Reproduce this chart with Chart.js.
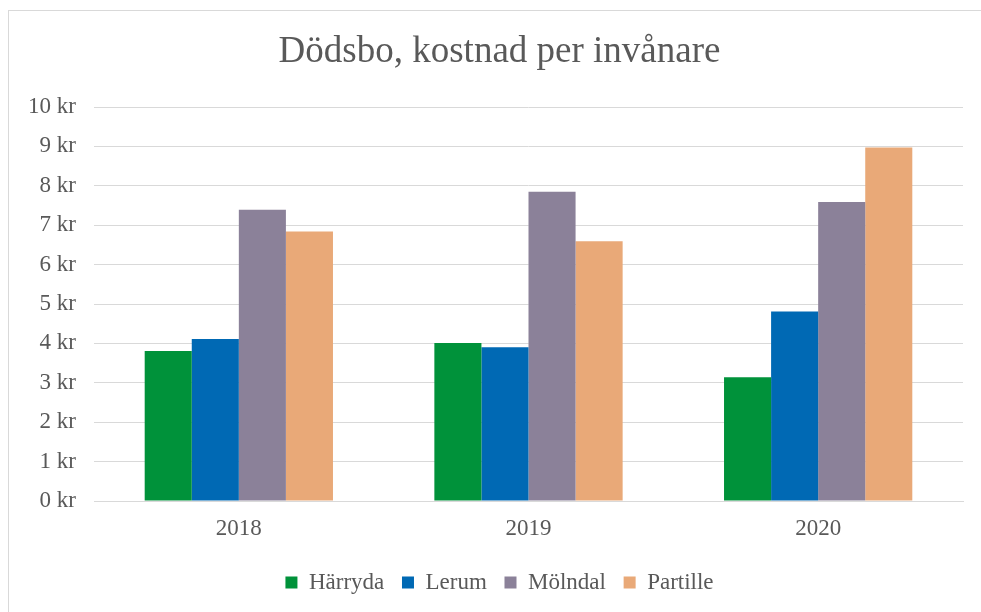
<!DOCTYPE html>
<html>
<head>
<meta charset="utf-8">
<script src="https://cdn.jsdelivr.net/npm/chart.js@4"></script>
<style>
  html, body { margin: 0; padding: 0; background: #fff; overflow: hidden; }
  #frame { position: absolute; left: 8px; top: 10px; width: 1100px; height: 800px; border: 1px solid #d9d9d9; }
  #wrap { position: absolute; left: 0; top: 0; width: 981px; height: 612px; }
</style>
</head>
<body>
<div id="frame"></div>
<div id="wrap"><canvas id="c"></canvas></div>
<script>
const categories = ["2018", "2019", "2020"];
const seriesNames = ["Härryda", "Lerum", "Mölndal", "Partille"];
const harryda  = [3.81, 4.01, 3.14];
const lerum    = [4.11, 3.90, 4.81];
const molndal  = [7.39, 7.85, 7.59];
const partille = [6.84, 6.59, 8.97];
const yTicks = [0, 1, 2, 3, 4, 5, 6, 7, 8, 9, 10];
const titleText = "Dödsbo, kostnad per invånare";
const unit = " kr";

const colors = ["#00923a", "#0069b4", "#8b8199", "#e9a978"];
const values = [harryda, lerum, molndal, partille];
const textColor = "#595959";
const fontFamily = "'Liberation Serif', 'Times New Roman', serif";

Chart.defaults.font.family = fontFamily;
Chart.defaults.color = textColor;

new Chart(document.getElementById("c"), {
  type: "bar",
  data: {
    labels: categories,
    datasets: seriesNames.map((name, i) => ({
      label: name,
      data: values[i],
      backgroundColor: colors[i],
      borderWidth: 0,
      categoryPercentage: 0.65,
      barPercentage: 1.0
    }))
  },
  options: {
    responsive: true,
    maintainAspectRatio: false,
    animation: false,
    layout: { padding: { top: 0, right: 18, bottom: 8, left: 36 } },
    plugins: {
      title: {
        display: true,
        text: titleText,
        color: textColor,
        font: { family: fontFamily, size: 37, weight: "normal" },
        padding: { top: 30, bottom: 32.6 }
      },
      legend: {
        position: "bottom",
        labels: {
          color: textColor,
          font: { family: fontFamily, size: 23, lineHeight: 1.0 },
          boxWidth: 12,
          boxHeight: 12,
          padding: 17.7
        }
      },
      tooltip: { enabled: false }
    },
    scales: {
      x: {
        grid: { display: false, drawTicks: false },
        border: { display: true, color: "#d9d9d9" },
        ticks: { color: textColor, font: { family: fontFamily, size: 23 }, padding: 14, maxRotation: 0 },
        afterFit: (s) => { s.height = 52.3; }
      },
      y: {
        min: yTicks[0],
        max: yTicks[yTicks.length - 1],
        afterBuildTicks: (s) => { s.ticks = yTicks.map(v => ({ value: v })); },
        grid: { color: "#d9d9d9", lineWidth: 1, drawTicks: false },
        border: { display: false },
        ticks: {
          color: textColor,
          font: { family: fontFamily, size: 23 },
          padding: 18,
          callback: (v) => v + unit
        },
        afterFit: (s) => { s.width = 58; },
        afterUpdate: (s) => { s._computeLabelArea = () => undefined; }
      }
    }
  }
});
</script>
</body>
</html>
